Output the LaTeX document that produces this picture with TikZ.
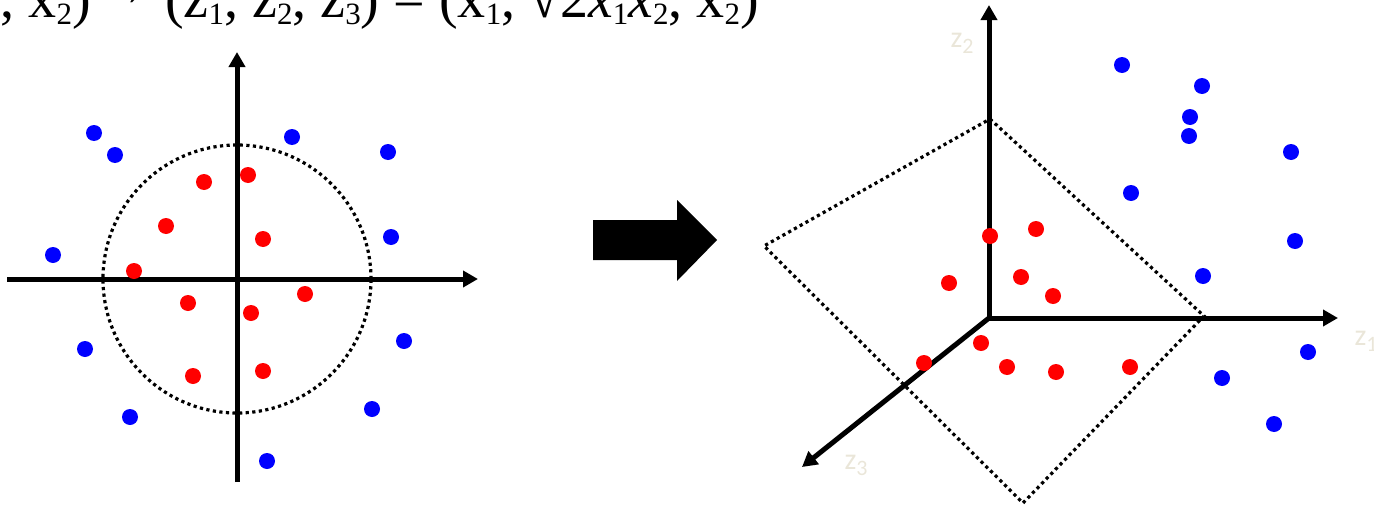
\documentclass[tikz,border=0pt]{standalone}
\usepackage{fontspec}
\setmainfont{Liberation Serif}
\newfontfamily\labelfont{Carlito}
\usepackage{tikz}
\usetikzlibrary{arrows.meta}
\usetikzlibrary{positioning}
\usetikzlibrary{calc}

\definecolor{ptblue}{RGB}{0,0,255}
\definecolor{ptred}{RGB}{255,0,0}
\definecolor{faint}{RGB}{234,230,217}

\newcommand{\sbs}[1]{\raisebox{-7pt}{\fontsize{31}{31}\selectfont #1}}
\newcommand{\zlab}[1]{{\labelfont\fontsize{30}{30}\selectfont z\raisebox{-6pt}{\fontsize{22}{22}\selectfont #1}}}

\begin{document}
\begin{tikzpicture}[x=1pt, y=-1pt,
    axis/.style={line width=5pt, -{Triangle[length=15pt,width=16pt]}},
    dotline/.style={line width=3.2pt, dash pattern=on 3.2pt off 3.4pt},
    pt/.style={circle, fill=#1, inner sep=0pt, minimum size=16pt},
    zlabel/.style={text=faint, inner sep=0pt},
    formula/.style={inner sep=0pt, font=\fontsize{56}{56}\selectfont}]
  \useasboundingbox (0,0) rectangle (1374,506);
  % mapping formula, cut off by the page at top and left
  \node[formula, anchor=base west] (rhs) at (165,17) {(z\sbs{1}, z\sbs{2}, z\sbs{3}) = (x\sbs{1}, √2\textit{x}\sbs{1}\textit{x}\sbs{2}, x\sbs{2})};
  \node[formula, anchor=base east] (lhs) at (152,17) {(x\sbs{1}, x\sbs{2})\hspace{5pt}\raisebox{12pt}{→}};
  % left: input space with the separating circle
  \coordinate (o) at (237,279);
  \coordinate (xl) at (7,279);
  \coordinate (xr) at (478,279);
  \coordinate (yb) at (237,482);
  \coordinate (yt) at (237,52);
  \draw[dotline] (o) circle (134pt);
  \draw[axis] (xl) -- (xr);
  \draw[axis] (yb) -- (yt);
  % outer points
  \foreach \x/\y [count=\i] in {94/133, 115/155, 292/137, 388/152, 53/255, 391/237,
      85/349, 404/341, 130/417, 372/409, 267/461}
    \node[pt=ptblue] (lb\i) at (\x,\y) {};
  % inner points
  \foreach \x/\y [count=\i] in {204/182, 248/175, 166/226, 263/239, 134/271, 188/303,
      305/294, 251/313, 193/376, 263/371}
    \node[pt=ptred] (lr\i) at (\x,\y) {};
  % block arrow between the two spaces
  \fill (593,220) -- (677,220) -- (677,200) -- (717,240) -- (677,281) -- (677,260) -- (593,260) -- cycle;
  % right: feature space with the separating plane
  \coordinate (p1) at (990,119);
  \coordinate (p2) at (1204,316);
  \coordinate (p3) at (1023,503);
  \coordinate (p4) at (764,246);
  \draw[dotline] (p1) -- (p2) -- (p3) -- (p4) -- cycle;
  \coordinate (org) at (989,318);
  \coordinate (z1) at (1338,318);
  \coordinate (z2) at (989,5);
  \coordinate (z3) at (802,467);
  \draw[axis] (org) -- (z1);
  \draw[axis] (org) -- (z2);
  \draw[axis] (org) -- (z3);
  \node[zlabel] (lz1) at (1366,341) {\zlab{1}};
  \node[zlabel] (lz2) at (962,43) {\zlab{2}};
  \node[zlabel] (lz3) at (856,465) {\zlab{3}};
  % mapped outer points
  \foreach \x/\y [count=\i] in {1122/65, 1202/86, 1190/117, 1189/136, 1291/152, 1131/193,
      1295/241, 1203/276, 1308/352, 1222/378, 1274/424}
    \node[pt=ptblue] (rb\i) at (\x,\y) {};
  % mapped inner points
  \foreach \x/\y [count=\i] in {990/236, 1036/229, 949/283, 1021/277, 1053/296, 981/343,
      924/363, 1007/367, 1056/372, 1130/367}
    \node[pt=ptred] (rr\i) at (\x,\y) {};
\end{tikzpicture}
\end{document}
